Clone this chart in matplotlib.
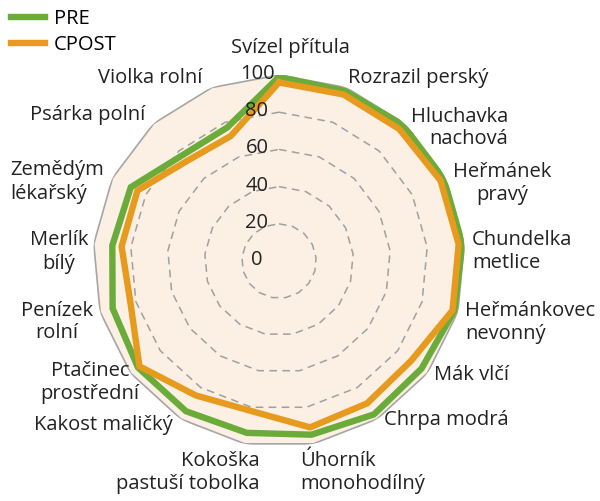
import matplotlib
matplotlib.use("Agg")
import matplotlib.pyplot as plt
import numpy as np

plt.rcParams["font.family"] = ["Open Sans", "DejaVu Sans"]
plt.rcParams["font.size"] = 14.5

categories = [
    "Svízel přítula", "Rozrazil perský", "Hluchavka\nnachová", "Heřmánek\npravý",
    "Chundelka\nmetlice", "Heřmánkovec\nnevonný", "Mák vlčí", "Chrpa modrá",
    "Úhorník\nmonohodílný", "Kokoška\npastuší tobolka", "Kakost maličký",
    "Ptačinec\nprostřední", "Penízek\nrolní", "Merlík\nbílý", "Zemědým\nlékařský",
    "Psárka polní", "Violka rolní",
]
pre = [99, 98, 99, 99, 99, 98, 96, 97, 95, 94, 95, 95, 93, 90, 89, 77, 77]
cpost = [96, 96, 96, 97, 97, 97, 89, 90, 91, 82, 85, 94, 83, 85, 85, 73, 72]
rings = [20, 40, 60, 80]
tick_values = [0, 20, 40, 60, 80, 100]

# label layout in pixels (x, y of block centre, alignment)
label_pos = [
    (290, 48, "center"), (348, 78, "left"), (508, 128, "right"), (502, 184, "center"),
    (472, 252, "left"), (465, 322, "left"), (434, 375, "left"), (384, 420, "left"),
    (300, 472, "left"), (260, 472, "right"), (173, 425, "right"), (90, 382, "center"),
    (57, 322, "center"), (59, 252, "center"), (10, 182, "left"), (145, 115, "right"),
    (202, 78, "right"),
]

W, H = 600, 501
green = "#6AAB3A"
orange = "#E69A1E"

fig = plt.figure(figsize=(6, 5.01), dpi=100)
cx, cy, rad = 279, 261, 186
ax = fig.add_axes([(cx - rad) / W, 1 - (cy + rad) / H, 2 * rad / W, 2 * rad / H],
                  projection="polar")
ax.set_theta_zero_location("N")
ax.set_theta_direction(-1)
ax.set_ylim(0, 100)
ax.axis("off")

n = len(categories)
theta = np.linspace(0, 2 * np.pi, n, endpoint=False)
tc = np.append(theta, theta[0])

ax.fill(tc, [100] * (n + 1), color="#FCF0E4", zorder=0)
ax.plot(tc, [100] * (n + 1), color="#A6A6A6", lw=1.2, zorder=1)
for r in rings:
    ax.plot(tc, [r] * (n + 1), color="#A0A0A0", lw=1.1, ls=(0, (5, 3.5)), zorder=1)

ax.plot(tc, np.append(pre, pre[0]), color=green, lw=4.6, solid_joinstyle="miter",
        zorder=3, label="PRE")
ax.plot(tc, np.append(cpost, cpost[0]), color=orange, lw=4.6, solid_joinstyle="miter",
        zorder=4, label="CPOST")

for v in tick_values:
    y = cy - rad * v / 100
    fig.text(257 / W, 1 - (y - 1) / H, str(v), ha="center", va="center",
             color="#222222", zorder=5)

for lab, (x, y, ha) in zip(categories, label_pos):
    fig.text(x / W, 1 - y / H, lab, ha=ha, va="center", multialignment=ha,
             color="#222222", linespacing=1.2)

fig.legend(loc="upper left", bbox_to_anchor=(-0.012, 1.018), frameon=False,
           handlelength=1.7, handletextpad=0.45, labelspacing=0.3)

fig.savefig("out.png", dpi=100)
